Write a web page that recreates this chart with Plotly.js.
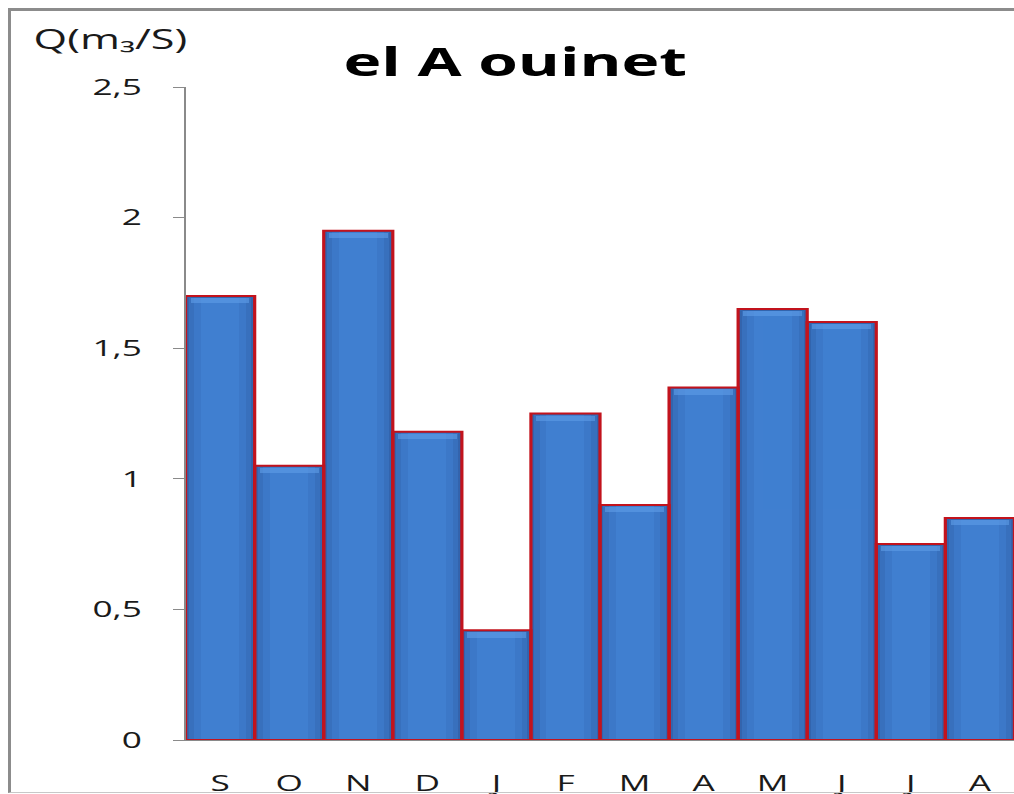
<!DOCTYPE html>
<html>
<head>
<meta charset="utf-8">
<script src="https://cdn.plot.ly/plotly-3.0.1.min.js"></script>
<style>
html,body{margin:0;padding:0;background:#fff;overflow:hidden;width:1014px;height:794px;}
#wrap{position:absolute;left:0;top:0;width:634px;height:794px;transform:scale(1.6,1);transform-origin:0 0;}
#chart{width:634px;height:794px;}
#frame{position:absolute;left:8px;top:8px;width:1020px;height:781px;border-left:3px solid #8c8c8c;border-top:3px solid #8c8c8c;border-bottom:1px solid #c8c8c8;pointer-events:none;}
</style>
</head>
<body>
<div id="wrap"><div id="chart"></div></div>
<div id="frame"></div>
<script>
const months = ["S","O","N","D","J","F","M","A","M ","J ","J  ","A "];
const tickLabels = ["S","O","N","D","J","F","M","A","M","J","J","A"];
const discharge = [1.70, 1.05, 1.95, 1.18, 0.42, 1.25, 0.90, 1.35, 1.65, 1.60, 0.75, 0.85];
const yTicks = [0, 0.5, 1, 1.5, 2, 2.5];
const yTickText = ["0", "0,5", "1", "1,5", "2", "2,5"];

function layer(color, width, drop) {
  return {type: "bar", x: months, y: discharge.map(v => v - drop),
          marker: {color: color, line: {width: 0}}, width: width, hoverinfo: "skip"};
}
const traces = [
  layer("#3364ad", 1, 0),
  layer("#3870bd", 0.9, 0.006),
  layer("#3c78c8", 0.75, 0.006),
  layer("#407fd0", 0.55, 0.006),
  {type: "bar", x: months, y: discharge.map(v => 0.02), base: discharge.map(v => v - 0.028),
   marker: {color: "#5f9de8", line: {width: 0}}, width: 0.85, hoverinfo: "skip", opacity: 0.6},
  {type: "bar", x: months, y: discharge,
   marker: {color: "rgba(0,0,0,0)", line: {color: "#c2131d", width: 2}}, width: 1, hoverinfo: "skip"}
];

const layout = {
  width: 634, height: 794,
  margin: {l: 116, r: 0, t: 87, b: 54},
  paper_bgcolor: "rgba(0,0,0,0)", plot_bgcolor: "rgba(0,0,0,0)",
  showlegend: false, barmode: "overlay", bargap: 0,
  font: {family: "Open Sans, sans-serif", color: "#1a1a1a"},
  title: {text: "el A ouinet", font: {family: "Open Sans, sans-serif", size: 40, color: "#000", weight: 700},
          x: 0.508, xref: "container", xanchor: "center", y: 0.922, yref: "container", yanchor: "middle"},
  xaxis: {
    type: "category", categoryorder: "array", categoryarray: months,
    tickvals: months, ticktext: tickLabels,
    range: [-0.5, 11.5], showgrid: false, zeroline: false,
    showline: true, linecolor: "#8a8a8a", linewidth: 1,
    ticks: "", ticklabelstandoff: 24,
    tickfont: {size: 22, color: "#1a1a1a"}
  },
  yaxis: {
    range: [0, 2.5], tickvals: yTicks, ticktext: yTickText,
    showgrid: false, zeroline: false,
    showline: true, linecolor: "#8a8a8a", linewidth: 1,
    ticks: "outside", ticklen: 7, tickcolor: "#8a8a8a", tickwidth: 1,
    ticklabelstandoff: 15,
    tickfont: {size: 22, color: "#1a1a1a"}
  },
  annotations: [{
    text: "Q(m₃/S)", xref: "paper", yref: "paper", x: -0.187, y: 1.075,
    xanchor: "left", yanchor: "middle", showarrow: false,
    font: {size: 27, color: "#1a1a1a"}
  }]
};

Plotly.newPlot("chart", traces, layout, {displayModeBar: false, staticPlot: true});
</script>
</body>
</html>
